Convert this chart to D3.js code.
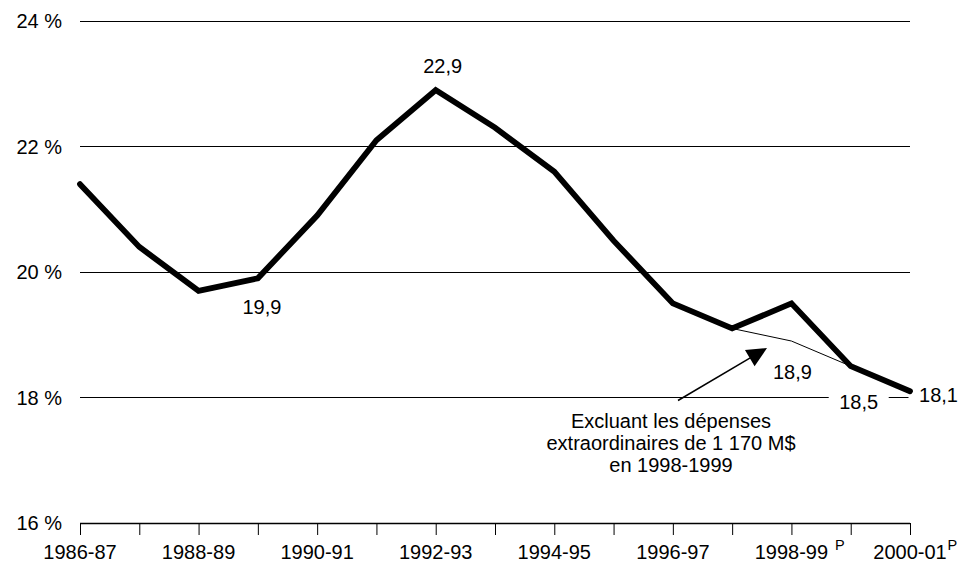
<!DOCTYPE html>
<html>
<head>
<meta charset="utf-8">
<script src="https://cdn.jsdelivr.net/npm/d3@7"></script>
<style>
  html, body { margin: 0; padding: 0; background: #fff; }
  svg { display: block; font-family: "Liberation Sans", Arial, sans-serif; }
</style>
</head>
<body>
<svg id="chart" width="969" height="563"></svg>
<script>
// Years (fiscal) on the x axis
const years = ["1986-87","1987-88","1988-89","1989-90","1990-91","1991-92","1992-93",
               "1993-94","1994-95","1995-96","1996-97","1997-98","1998-99","1999-00","2000-01"];
// Ratio, in percent
const ratio = [21.4, 20.4, 19.7, 19.9, 20.9, 22.1, 22.9, 22.3, 21.6, 20.5, 19.5, 19.1, 19.5, 18.5, 18.1];
// Ratio excluding extraordinary spending of 1998-1999
const excludingYears = ["1997-98","1998-99","1999-00"];
const excludingRatio = [19.1, 18.9, 18.5];
// Y ticks
const yTicks = [16, 18, 20, 22, 24];
// Every other year is labelled; projected years get a "P"
const labelledYears = ["1986-87","1988-89","1990-91","1992-93","1994-95","1996-97","1998-99","2000-01"];
const projectedYears = ["1998-99","2000-01"];
// Value labels
const valueLabels = [
  {year: "1989-90", value: 19.9},
  {year: "1992-93", value: 22.9},
  {year: "1998-99", value: 18.9},
  {year: "1999-00", value: 18.5},
  {year: "2000-01", value: 18.1}
];
const note = ["Excluant les dépenses", "extraordinaires de 1 170 M$", "en 1998-1999"];

// Label offsets from their point (px)
const labelOffsets = {
  "1989-90": [4, 29], "1992-93": [7, -24.5], "1998-99": [1, 30.5],
  "1999-00": [8, 36], "2000-01": [28.5, 4]
};
const pOffsets = {"1998-99": 43.5, "2000-01": 37.5};

const svg = d3.select("#chart");
const margin = {left: 80, right: 59, top: 21, bottom: 40};
const W = 969, H = 563;
const FS = 20;

const x = d3.scalePoint().domain(years).range([margin.left, W - margin.right]);
const y = d3.scaleLinear().domain([16, 24]).range([H - margin.bottom, margin.top]);

// Gridlines and y labels
const grid = svg.append("g");
grid.selectAll("line").data(yTicks.filter(d => d !== 16)).join("line")
  .attr("x1", x.range()[0]).attr("x2", x.range()[1])
  .attr("y1", d => y(d)).attr("y2", d => y(d))
  .attr("stroke", "#000").attr("stroke-width", 1).attr("shape-rendering", "crispEdges");
svg.append("g").selectAll("text").data(yTicks).join("text")
  .attr("x", 62).attr("y", d => y(d)).attr("dy", "0.35em")
  .attr("text-anchor", "end").attr("font-size", FS).text(d => d + " %");

// X axis with ticks at every year
const xAxis = d3.axisBottom(x).tickSize(12).tickFormat("");
const gx = svg.append("g").attr("transform", `translate(0,${y(16)})`).call(xAxis);
gx.select(".domain").attr("d", `M${x.range()[0]},0.5H${x.range()[1]}`).attr("stroke", "#000").attr("stroke-width", 1.5);
gx.selectAll(".tick line").attr("stroke", "#000").attr("stroke-width", 1);

svg.append("g").selectAll("text").data(labelledYears).join("text")
  .attr("x", d => x(d)).attr("y", y(16) + 36)
  .attr("text-anchor", "middle").attr("font-size", FS).text(d => d);
svg.append("g").selectAll("text").data(projectedYears).join("text")
  .attr("x", d => x(d) + pOffsets[d]).attr("y", y(16) + 27)
  .attr("text-anchor", "start").attr("font-size", 14.5).text("P");

// Value label positions; white backings break the gridline behind them
const vl = svg.append("g").selectAll("g").data(valueLabels).join("g")
  .attr("transform", d => `translate(${x(d.year) + labelOffsets[d.year][0]},${y(d.value) + labelOffsets[d.year][1]})`);
vl.append("rect").attr("x", -30).attr("y", -11).attr("width", 60).attr("height", 22).attr("fill", "#fff");

// Thin line: excluding extraordinary spending
const line = d3.line().x(d => x(d[0])).y(d => y(d[1]));
svg.append("path")
  .datum(excludingYears.map((d, i) => [d, excludingRatio[i]]))
  .attr("d", line).attr("fill", "none").attr("stroke", "#000").attr("stroke-width", 1);

// Main thick line
svg.append("path")
  .datum(years.map((d, i) => [d, ratio[i]]))
  .attr("d", line).attr("fill", "none").attr("stroke", "#000")
  .attr("stroke-width", 5.8).attr("stroke-linejoin", "miter").attr("stroke-linecap", "round");

vl.append("text").attr("text-anchor", "middle").attr("dy", "0.35em").attr("font-size", FS)
  .text(d => String(d.value).replace(".", ","));

// Annotation with arrow pointing at the thin line
const ax0 = 678, ay0 = y(18) + 3, tx = 767, ty = 348;
const ang = Math.atan2(ty - ay0, tx - ax0);
const len = 20, half = 9.5;
const bx = tx - len * Math.cos(ang), by = ty - len * Math.sin(ang);
svg.append("line")
  .attr("x1", ax0).attr("y1", ay0).attr("x2", bx + 2 * Math.cos(ang)).attr("y2", by + 2 * Math.sin(ang))
  .attr("stroke", "#000").attr("stroke-width", 1.5);
const px = -Math.sin(ang) * half, py = Math.cos(ang) * half;
svg.append("path")
  .attr("d", `M${tx},${ty}L${bx + px},${by + py}L${bx - px},${by - py}Z`)
  .attr("fill", "#000");

const nt = svg.append("text").attr("x", 671).attr("y", 428)
  .attr("text-anchor", "middle").attr("font-size", FS);
nt.selectAll("tspan").data(note).join("tspan")
  .attr("x", 671).attr("dy", (d, i) => i === 0 ? 0 : 22).text(d => d);
</script>
</body>
</html>
